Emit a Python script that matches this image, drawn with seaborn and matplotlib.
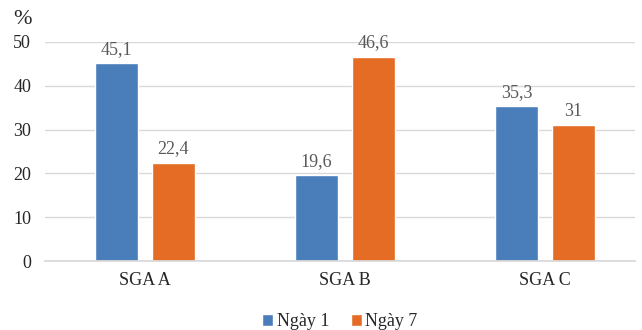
import matplotlib
matplotlib.use("Agg")
import matplotlib.pyplot as plt
import seaborn as sns
import pandas as pd

groups = ["SGA A", "SGA B", "SGA C"]
series = ["Ngày 1", "Ngày 7"]
day1 = [45.1, 19.6, 35.3]
day7 = [22.4, 46.6, 31.0]
labels_day1 = ["45,1", "19,6", "35,3"]
labels_day7 = ["22,4", "46,6", "31"]
yticks = [0, 10, 20, 30, 40, 50]

df = pd.DataFrame({
    "group": groups * 2,
    "series": [series[0]] * 3 + [series[1]] * 3,
    "value": day1 + day7,
})

sns.set_theme(style="white")
plt.rcParams["font.family"] = ["Liberation Serif", "DejaVu Serif"]

fig = plt.figure(figsize=(6.42, 3.30), dpi=100)
ax = fig.add_axes([45 / 642, 69 / 330, 590 / 642, 219 / 330])

palette = {"Ngày 1": "#4a7ebb", "Ngày 7": "#e46c25"}
sns.barplot(data=df, x="group", y="value", hue="series", palette=palette,
            width=0.57, gap=0.23, saturation=1, ax=ax, legend=True)

for container, labs in zip(ax.containers, [labels_day1, labels_day7]):
    ax.bar_label(container, labels=labs, padding=4, fontsize=13, color="#595959")

ax.set_ylim(0, 50)
ax.set_xlim(-0.5, 2.45)
ax.set_yticks(yticks)
ax.yaxis.grid(True, color="#d9d9d9", linewidth=1)
ax.set_axisbelow(True)
for s in ["top", "right", "left"]:
    ax.spines[s].set_visible(False)
ax.spines["bottom"].set_color("#d9d9d9")
ax.tick_params(axis="both", length=0, labelsize=13, colors="#262626")
ax.tick_params(axis="y", pad=10)
ax.tick_params(axis="x", pad=8)
ax.set_xlabel("")
ax.set_ylabel("")

fig.text(13 / 642, 1 - 19 / 330, "%", fontsize=16, color="#262626", va="center", ha="left")

ax.legend(loc="upper center", bbox_to_anchor=(0.5, -0.165), ncol=2, frameon=False,
          fontsize=13, handlelength=0.6, handleheight=0.6, handletextpad=0.2,
          columnspacing=1.2, labelcolor="#262626")

fig.savefig("out.png", dpi=100)
